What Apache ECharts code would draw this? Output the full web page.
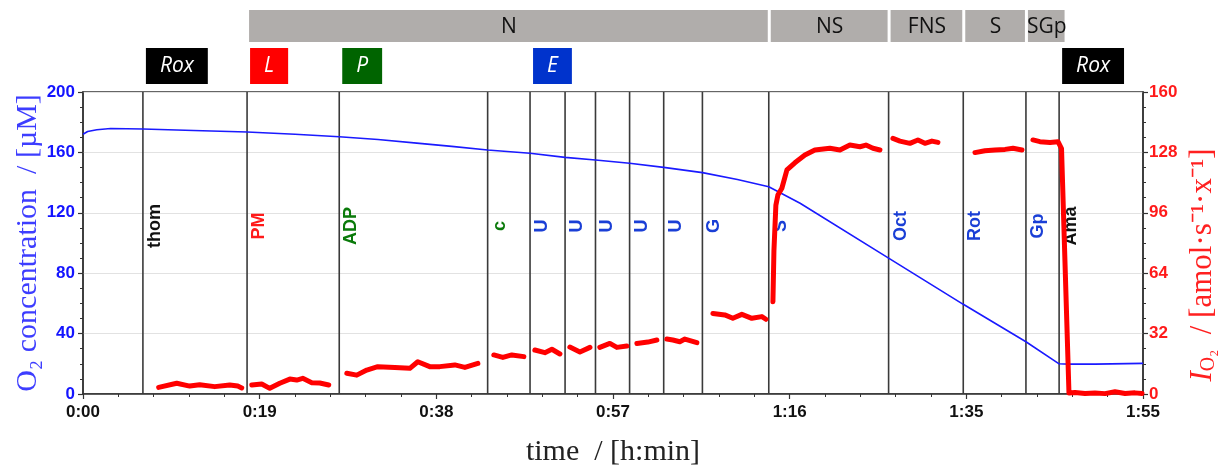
<!DOCTYPE html>
<html>
<head>
<meta charset="utf-8">
<script src="https://cdn.jsdelivr.net/npm/echarts@6/dist/echarts.min.js"></script>
<style>
html, body { margin: 0; padding: 0; background: #fff; }
#main { width: 1219px; height: 471px; }
</style>
</head>
<body>
<div id="main"></div>
<script>
// O2 concentration trace (time in minutes, µM)
var o2Time = [0, 0.5, 1.5, 3, 6.5, 12, 17.8, 23, 27.8, 32, 36.5, 40, 43.9, 48.5, 52.3, 55.6, 59.3, 63, 67.2, 71, 74.4, 77.8, 87.4, 95.5, 102.3, 105.9, 107, 109.8, 110, 115];
var o2Conc = [172, 173.8, 175, 175.8, 175.5, 174.5, 173.5, 172, 170.4, 168.5, 166, 164, 161.6, 159.4, 156.7, 155, 152.8, 150.1, 146.6, 142, 137.3, 126.3, 90, 59.4, 34.6, 20, 19.8, 19.8, 20.3, 20.3];

// O2 flux trace (right axis), null = gap between titration steps
var fluxTime = [
  8.21, 10.17, 11.58, 12.66, 14.29, 15.92, 16.79, 17.22, 17.8,
  18.31, 19.39, 20.26, 21.35, 22.44, 23.19, 23.84, 24.82, 25.69, 26.66, 27.8,
  28.62, 29.70, 30.79, 31.98, 33.83, 35.46, 36.32, 37.62, 38.71, 40.34, 41.43, 42.84, 43.9,
  44.57, 45.55, 46.52, 47.83, 48.5,
  49.02, 50.11, 50.87, 51.74, 52.3,
  52.82, 53.91, 55.0, 55.6,
  56.07, 57.16, 57.92, 59.0, 59.3,
  60.09, 61.28, 62.26, 63.0,
  63.34, 63.99, 64.75, 65.30, 66.60, 67.2,
  68.34, 69.63, 70.50, 71.48, 72.56, 73.65, 74.09, 74.4,
  74.85, 74.96, 75.17, 75.39, 75.82, 76.37, 77.23, 78.32, 79.40, 81.03, 82.12, 83.20, 84.29, 84.94, 85.70, 86.46, 87.4,
  87.87, 88.63, 89.71, 90.58, 91.34, 92.10, 92.75, 95.5,
  96.77, 97.85, 98.94, 100.03, 100.90, 101.87, 102.3,
  103.06, 103.82, 104.91, 105.78, 105.99, 106.16, 106.97, 107.62, 108.71, 109.79, 110.88, 111.96, 113.05, 114.13, 114.89
];
var fluxValue = [
  3.5, 5.7, 4.2, 4.9, 3.9, 4.8, 4.2, 3.2, null,
  4.8, 5.3, 3.0, 5.7, 7.9, 7.4, 8.3, 6.0, 5.8, 4.8, null,
  11, 10, 12.7, 14.5, 14, 13.6, 17.1, 14.5, 14.5, 15.4, 14.1, 16.2, null,
  20.7, 19.4, 20.7, 19.8, null,
  23.3, 21.9, 23.7, 21.2, null,
  24.9, 22.3, 24.7, null,
  24.7, 26.8, 24.7, 25.4, null,
  26.8, 27.5, 28.6, null,
  29.1, 28.6, 27.7, 29.1, 27.2, null,
  42.7, 41.9, 40.1, 42.2, 40.1, 41, 39.6, null,
  48.9, 76, 100, 105.4, 109, 118.7, 122.5, 126.6, 129.3, 130.2, 129.3, 131.9, 131, 131.9, 130.2, 129.3, null,
  135.4, 134, 132.8, 134.6, 132.8, 134, 133.3, null,
  127.9, 128.9, 129.3, 129.6, 130.2, 129.3, null,
  134.6, 133.7, 133.3, 133.7, 132.8, 130, 0.5, 0.8, 0.3, 0.5, 0.2, 1.2, 0.3, 0.6, 0.3
];

// titration events
var eventTime = [6.5, 17.8, 27.8, 43.9, 48.5, 52.3, 55.6, 59.3, 63.0, 67.2, 74.4, 87.4, 95.5, 102.3, 105.9];
var eventLabel = ['thom', 'PM', 'ADP', 'c', 'U', 'U', 'U', 'U', 'U', 'G', 'S', 'Oct', 'Rot', 'Gp', 'Ama'];
var eventColor = ['#111', '#ff1a1a', '#0a7a0a', '#0a7a0a', '#1a3fd6', '#1a3fd6', '#1a3fd6', '#1a3fd6', '#1a3fd6', '#1a3fd6', '#1a3fd6', '#1a3fd6', '#1a3fd6', '#1a3fd6', '#111'];

// pathway control states (top row)
var stateName = ['N', 'NS', 'FNS', 'S', 'SGp'];
var stateStart = [17.8, 74.4, 87.4, 95.5, 102.3];
var stateEnd = [74.4, 87.4, 95.5, 102.3, 106.6];

// coupling-state tags (second row)
var tagName = ['Rox', 'L', 'P', 'E', 'Rox'];
var tagTime = [6.5, 17.8, 27.8, 48.5, 105.9];
var tagColor = ['#000000', '#ff0000', '#006400', '#0033cc', '#000000'];

var xTicks = ['0:00', '0:19', '0:38', '0:57', '1:16', '1:35', '1:55'];
var xStep = 115 / 6;

var chart = echarts.init(document.getElementById('main'));

var tickFont = { fontFamily: '"Liberation Sans", Arial, sans-serif', fontWeight: 'bold', fontSize: 17 };
var titleFont = '"Liberation Serif", "Times New Roman", serif';

function renderEvent(params, api) {
  var i = api.value(2);
  var p = api.coord([api.value(0), 0]);
  var cs = params.coordSys;
  return {
    type: 'group',
    children: [
      { type: 'line', shape: { x1: p[0], y1: cs.y, x2: p[0], y2: cs.y + cs.height },
        style: { stroke: '#3a3a3a', lineWidth: 1.6 } },
      { type: 'text', x: p[0] + 12, y: cs.y + cs.height * 0.444, rotation: Math.PI / 2,
        style: { text: eventLabel[i], fill: eventColor[i], font: 'bold 18px "Liberation Sans", Arial, sans-serif',
                 align: 'center', verticalAlign: 'middle' } }
    ]
  };
}

function renderState(params, api) {
  var i = api.value(2);
  var a = api.coord([stateStart[i], 0])[0];
  var b = api.coord([stateEnd[i], 0])[0];
  var top = params.coordSys.y;
  return {
    type: 'group',
    children: [
      { type: 'rect', shape: { x: a + 2, y: top - 82, width: b - a - 3, height: 32 }, style: { fill: '#b0adab' } },
      { type: 'text', x: (a + b) / 2 + 1, y: top - 65,
        style: { text: stateName[i], fill: '#111', font: '21px "Open Sans", sans-serif', align: 'center', verticalAlign: 'middle' } }
    ]
  };
}

function renderTag(params, api) {
  var i = api.value(2);
  var x = api.coord([tagTime[i], 0])[0];
  var top = params.coordSys.y;
  return {
    type: 'text', x: x + 3, y: top - 26,
    style: { text: tagName[i], fill: '#fff', font: 'italic 21px "Open Sans", sans-serif',
             align: 'left', verticalAlign: 'middle', lineHeight: 22,
             backgroundColor: tagColor[i], padding: [7, 14] }
  };
}

var o2Data = o2Time.map(function (t, i) { return [t, o2Conc[i]]; });
var fluxData = fluxTime.map(function (t, i) { return [t, fluxValue[i] === null ? '-' : fluxValue[i]]; });

chart.setOption({
  animation: false,
  grid: { left: 83, right: 76, top: 92, bottom: 77, show: true, borderColor: '#333', borderWidth: 1.5,
          backgroundColor: 'transparent', containLabel: false, outerBoundsMode: 'none' },
  xAxis: {
    type: 'value', min: 0, max: 115, interval: xStep,
    name: 'time  / [h:min]', nameLocation: 'middle', nameGap: 43, nameMoveOverlap: false,
    nameTextStyle: { fontFamily: titleFont, fontSize: 30, color: '#222' },
    axisLine: { lineStyle: { color: '#333', width: 1.5 } },
    axisTick: { length: 5, lineStyle: { color: '#333', width: 1.2 } },
    minorTick: { show: true, splitNumber: 5, length: 3, lineStyle: { color: '#333' } },
    splitLine: { show: false },
    axisLabel: Object.assign({ color: '#111', margin: 10, formatter: function (v) { return xTicks[Math.round(v / xStep)]; } }, tickFont)
  },
  yAxis: [{
    type: 'value', min: 0, max: 200, interval: 40,
    name: '{t|O₂ concentration  / [µM]}', nameLocation: 'middle', nameGap: 40, nameRotate: 90, nameMoveOverlap: false,
    nameTextStyle: { rich: { t: { fontFamily: titleFont, fontSize: 30, color: '#3d3dff' } } },
    axisLine: { show: true, lineStyle: { color: '#333', width: 1.5 } },
    axisTick: { show: true, length: 5, lineStyle: { color: '#333', width: 1.2 } },
    minorTick: { show: true, splitNumber: 4, length: 3, lineStyle: { color: '#333' } },
    splitLine: { show: true, lineStyle: { color: '#e2e2e2', width: 1 } },
    axisLabel: Object.assign({ color: '#1414ff', margin: 8 }, tickFont)
  }, {
    type: 'value', min: 0, max: 160, interval: 32, position: 'right',
    name: '{i|I}{s|O₂}{n|  / [amol·s⁻¹·x⁻¹]}', nameLocation: 'middle', nameGap: 44, nameRotate: 90, nameMoveOverlap: false,
    nameTextStyle: { padding: [0, 44, 0, 0], rich: {
      i: { fontFamily: titleFont, fontStyle: 'italic', fontSize: 31, color: '#ff2020', lineHeight: 32 },
      s: { fontFamily: titleFont, fontSize: 20, color: '#ff2020', lineHeight: 14, verticalAlign: 'bottom' },
      n: { fontFamily: titleFont, fontSize: 31, color: '#ff2020', lineHeight: 32 }
    } },
    axisLine: { show: true, lineStyle: { color: '#333', width: 1.5 } },
    axisTick: { show: true, length: 5, lineStyle: { color: '#333', width: 1.2 } },
    minorTick: { show: true, splitNumber: 4, length: 3, lineStyle: { color: '#333' } },
    splitLine: { show: false },
    axisLabel: Object.assign({ color: '#ff1a1a', margin: 6 }, tickFont)
  }],
  series: [{
    type: 'custom', name: 'events', z: 1, clip: false, silent: true,
    renderItem: renderEvent,
    data: eventTime.map(function (t, i) { return [t, 0, i]; })
  }, {
    type: 'custom', name: 'states', z: 1, clip: false, silent: true,
    renderItem: renderState,
    data: stateStart.map(function (t, i) { return [t, 0, i]; })
  }, {
    type: 'custom', name: 'tags', z: 1, clip: false, silent: true,
    renderItem: renderTag,
    data: tagTime.map(function (t, i) { return [t, 0, i]; })
  }, {
    type: 'line', name: 'O2 concentration', z: 3,
    data: o2Data, showSymbol: false,
    lineStyle: { color: '#1a1aff', width: 1.6 }
  }, {
    type: 'line', name: 'O2 flux', yAxisIndex: 1, z: 4,
    data: fluxData, showSymbol: false, connectNulls: false,
    lineStyle: { color: '#ff0000', width: 5, cap: 'round', join: 'round' }
  }]
});
</script>
</body>
</html>
